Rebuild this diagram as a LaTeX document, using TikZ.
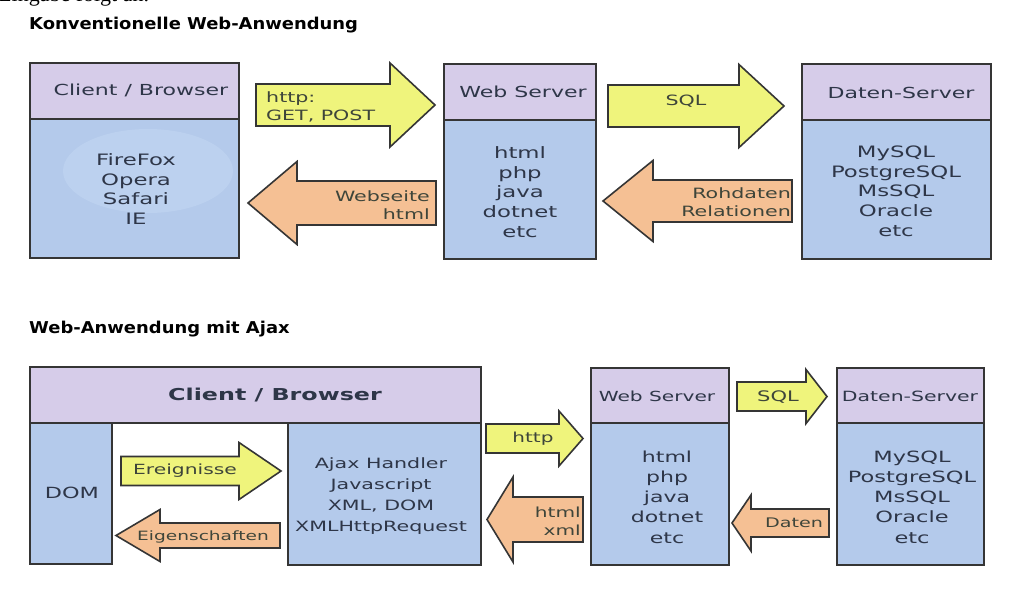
\documentclass[tikz,border=0pt]{standalone}
\usepackage{fontspec}
\setmainfont{DejaVu Sans}
\newfontfamily\boxfont{DejaVu Sans}[FakeStretch=1.45]
\newfontfamily\titlefont{DejaVu Sans}[FakeStretch=1.1]
\newfontfamily\seriffont{Liberation Serif}
\definecolor{hdrcol}{HTML}{D6CCE9}
\definecolor{bodycol}{HTML}{B4CAEB}
\definecolor{glowcol}{HTML}{BCD1EF}
\definecolor{yelcol}{HTML}{EFF47C}
\definecolor{orgcol}{HTML}{F5C094}
\definecolor{bordcol}{HTML}{353535}
\definecolor{txtcol}{HTML}{2E3648}
\newcommand\BlockArrow[7]{%
  \draw[arrowbox,fill=#1] (#2,{#5-#6}) -- (#3,{#5-#6}) -- (#3,{#5-#7}) -- (#4,#5)
    -- (#3,{#5+#7}) -- (#3,{#5+#6}) -- (#2,{#5+#6}) -- cycle;}
\tikzset{
  box/.style={draw=bordcol, line width=1.7pt},
  arrowbox/.style={draw=bordcol, line width=1.6pt, line join=miter},
  hdrtext/.style={text=txtcol, inner sep=0pt, font=\boxfont\fontsize{15.2}{18}\selectfont},
  bodytext/.style={text=txtcol, inner sep=0pt, align=center, font=\boxfont\fontsize{15.7}{19.7}\selectfont},
  arrtext/.style={text=txtcol!80!olive, inner sep=0pt, font=\boxfont\fontsize{14.2}{18}\selectfont},
  title/.style={inner sep=0pt, anchor=base west, font=\titlefont\bfseries\fontsize{16.3}{19}\selectfont}
}
\begin{document}
\begin{tikzpicture}[x=1pt,y=-1pt]
\useasboundingbox (0,0) rectangle (1009,590);
\clip (0,0) rectangle (1009,590);
\fill[white] (0,0) rectangle (1009,590);
% clipped line of the preceding text
\node[inner sep=0pt, anchor=base west, font=\seriffont\fontsize{22}{24}\selectfont] (frag) at (-2,1) {Eingabe folgt an.};
% titles
\node[title] (t1) at (29,29) {Konventionelle Web-Anwendung};
\node[title] (t2) at (29,333) {Web-Anwendung mit Ajax};

% ---------- top diagram ----------
\draw[box,fill=hdrcol] (30,63) rectangle (239,119);
\draw[box,fill=bodycol] (30,119) rectangle (239,258);
\fill[glowcol] (148,171) ellipse (85 and 42);
\draw[box] (30,63) rectangle (239,258);
\draw[box,fill=hdrcol] (444,64) rectangle (596,120);
\draw[box,fill=bodycol] (444,120) rectangle (596,259);
\draw[box,fill=hdrcol] (802,64) rectangle (991,120);
\draw[box,fill=bodycol] (802,120) rectangle (991,259);

\node[hdrtext] (cb1) at (141,90) {Client / Browser};
\node[bodytext] (cbb1) at (136,189) {FireFox\\Opera\\Safari\\IE};
\node[hdrtext] (ws1) at (523,92) {Web Server};
\node[bodytext] (wsb1) at (520,192) {html\\php\\java\\dotnet\\etc};
\node[hdrtext] (ds1) at (901,93) {Daten-Server};
\node[bodytext] (dsb1) at (896,191) {MySQL\\PostgreSQL\\MsSQL\\Oracle\\etc};

\BlockArrow{yelcol}{256}{390}{435}{105}{21}{42}
\BlockArrow{yelcol}{608}{739}{784}{106}{21}{41.5}
\BlockArrow{orgcol}{436}{297}{248}{203}{22}{41.5}
\BlockArrow{orgcol}{792}{653}{603}{201}{21}{40.5}
\node[arrtext, anchor=west, align=left] (a1) at (266,107) {http:\\GET, POST};
\node[arrtext] (a2) at (686,101) {SQL};
\node[arrtext, anchor=east, align=right] (a3) at (430,205) {Webseite\\html};
\node[arrtext, anchor=east, align=right] (a4) at (791,202) {Rohdaten\\Relationen};

% ---------- bottom diagram ----------
\draw[box,fill=hdrcol] (30,367) rectangle (481,423);
\draw[box,fill=bodycol] (30,423) rectangle (112,564);
\draw[box,fill=bodycol] (288,423) rectangle (481,565);
\draw[box,fill=hdrcol] (591,368) rectangle (729,423);
\draw[box,fill=bodycol] (591,423) rectangle (729,565);
\draw[box,fill=hdrcol] (837,368) rectangle (984,423);
\draw[box,fill=bodycol] (837,423) rectangle (984,565);

\node[text=txtcol, inner sep=0pt, font=\boxfont\bfseries\fontsize{16.4}{19}\selectfont] (cb2) at (275,395) {Client / Browser};
\node[bodytext, font=\boxfont\fontsize{15.4}{19}\selectfont] (dom) at (72,493) {DOM};
\node[bodytext, font=\boxfont\fontsize{14.2}{21}\selectfont] (ajax) at (381,496) {Ajax Handler\\Javascript\\XML, DOM\\XMLHttpRequest};
\node[hdrtext, font=\boxfont\fontsize{13.9}{17}\selectfont] (ws2) at (657,396) {Web Server};
\node[bodytext, font=\boxfont\fontsize{15.2}{20.2}\selectfont] (wsb2) at (667,497) {html\\php\\java\\dotnet\\etc};
\node[hdrtext, font=\boxfont\fontsize{14.1}{17}\selectfont] (ds2) at (910,396) {Daten-Server};
\node[bodytext, font=\boxfont\fontsize{15.5}{20.2}\selectfont] (dsb2) at (912,497) {MySQL\\PostgreSQL\\MsSQL\\Oracle\\etc};

\BlockArrow{yelcol}{121}{239}{281}{471}{14.5}{28.5}
\BlockArrow{orgcol}{280}{160}{116}{535.5}{12.5}{26}
\BlockArrow{yelcol}{486}{559}{583}{438.5}{14.5}{27.5}
\BlockArrow{orgcol}{583}{513}{487}{519.5}{22.5}{42.5}
\BlockArrow{yelcol}{737}{806}{827}{396.5}{14.5}{27}
\BlockArrow{orgcol}{829}{751}{732}{523}{14}{28}
\node[arrtext, font=\boxfont\fontsize{14}{17}\selectfont] (b1) at (185,471) {Ereignisse};
\node[arrtext, font=\boxfont\fontsize{12.8}{16}\selectfont] (b2) at (203,537) {Eigenschaften};
\node[arrtext, font=\boxfont\fontsize{13.8}{17}\selectfont] (b3) at (533,439) {http};
\node[arrtext, anchor=east, align=right, font=\boxfont\fontsize{13.9}{18}\selectfont] (b4) at (581,521) {html\\xml};
\node[arrtext, font=\boxfont\fontsize{14.5}{17}\selectfont] (b5) at (778,397) {SQL};
\node[arrtext, font=\boxfont\fontsize{13.2}{17}\selectfont] (b6) at (794,523) {Daten};
\end{tikzpicture}
\end{document}
